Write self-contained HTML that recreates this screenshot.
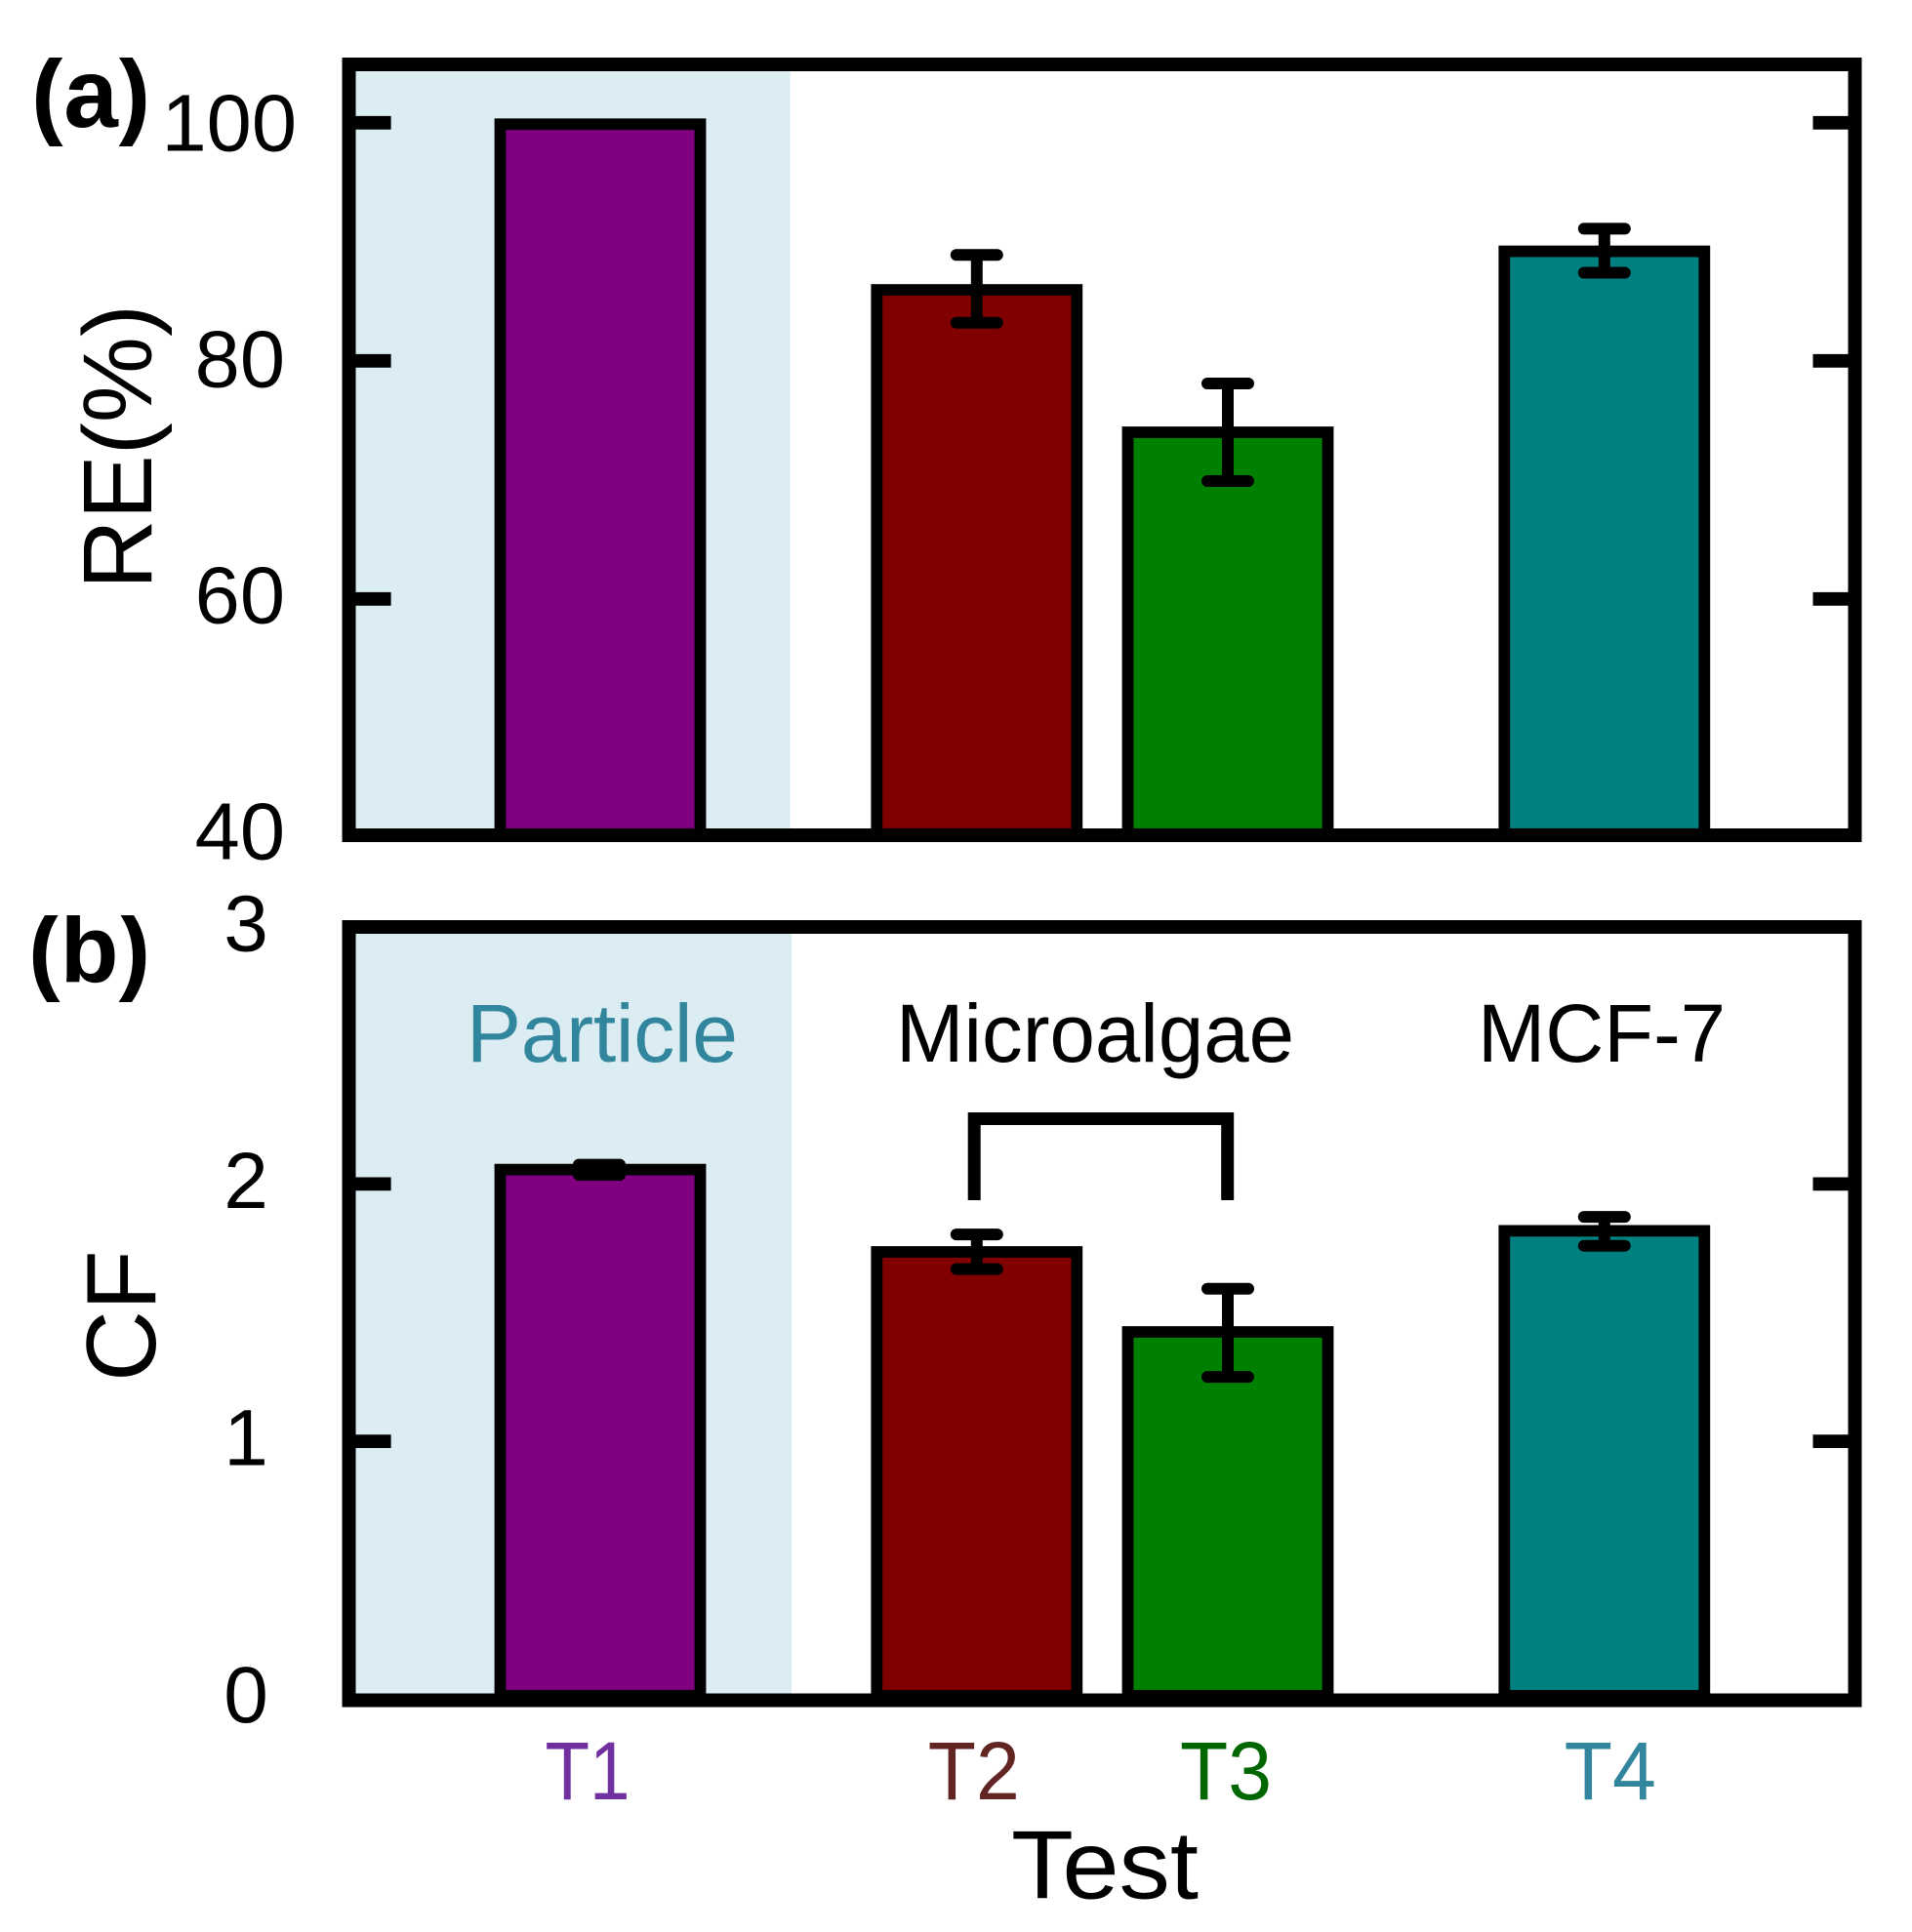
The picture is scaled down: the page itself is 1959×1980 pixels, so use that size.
<!DOCTYPE html>
<html lang="en">
<head>
<meta charset="utf-8">
<title>RE and CF by test</title>
<style>
html,body{margin:0;padding:0;background:#fff;}
svg{display:block;}
text{font-family:"Liberation Sans",Arial,sans-serif;}
</style>
</head>
<body>
<svg id="chart" xmlns="http://www.w3.org/2000/svg" width="1959" height="1980" viewBox="0 0 1959 1980">
  <defs>
    <clipPath id="clip-label-a"><rect x="0" y="59" width="200" height="91"/></clipPath>
    <clipPath id="clip-label-b"><rect x="0" y="938" width="200" height="91"/></clipPath>
  </defs>
  <rect x="0" y="0" width="1959" height="1980" fill="#ffffff"/>
  <rect x="360" y="66" width="449.5" height="790" fill="#dbedf3"/>
  <rect x="360" y="950" width="451" height="792" fill="#dbedf3"/>
  <g id="panel-a"></g>
  <g id="panel-b"></g>
  <rect x="357.5" y="66" width="1543" height="790" fill="none" stroke="#000" stroke-width="14"/>
  <rect x="357.5" y="950" width="1543" height="792.5" fill="none" stroke="#000" stroke-width="14"/>
  <path d="M998.2 1230 V1146.5 H1257.7 V1230" fill="none" stroke="#000" stroke-width="13"/>

  <g clip-path="url(#clip-label-a)"><text x="32" y="130" font-size="100" font-weight="700">(a)</text></g>
  <g clip-path="url(#clip-label-b)"><text x="29" y="1006.5" font-size="98" font-weight="700">(b)</text></g>
  <text transform="translate(155,604) rotate(-90)" font-size="100" textLength="292" lengthAdjust="spacingAndGlyphs">RE(%)</text>
  <text transform="translate(159,1416) rotate(-90)" font-size="101">CF</text>
  <text x="1036" y="1945.5" font-size="99" textLength="192" lengthAdjust="spacingAndGlyphs">Test</text>
  <text x="478" y="1088" font-size="84" fill="#31859c" textLength="278" lengthAdjust="spacing">Particle</text>
  <text x="918" y="1088" font-size="84" fill="#000" textLength="408" lengthAdjust="spacingAndGlyphs">Microalgae</text>
  <text x="1514" y="1088" font-size="84" fill="#000" textLength="254" lengthAdjust="spacingAndGlyphs">MCF-7</text>
</svg>
<script>
// ---- chart data ----
const categories = ["T1", "T2", "T3", "T4"];
const testPositions = [1, 4, 6, 9];
const categoryColors = ["#800080", "#800000", "#008000", "#008080"];
const categoryLabelColors = ["#7030a0", "#632523", "#006600", "#31859c"];

const reValues = [99.88, 85.96, 74.0, 89.2];
const reUpper = [null, 88.9, 78.1, 91.1];
const reLower = [null, 83.2, 69.9, 87.4];
const reTicks = [40, 60, 80, 100];

const cfValues = [2.056, 1.736, 1.425, 1.818];
const cfUpper = [2.075, 1.804, 1.593, 1.872];
const cfLower = [2.035, 1.669, 1.250, 1.76];
const cfTicks = [0, 1, 2, 3];

// ---- axis functions ----
const SVGNS = "http://www.w3.org/2000/svg";
function xScale(p) { return 615 + (p - 1) * 128.6; }
function yRE(v) { return 125.8 + (100 - v) * 12.2; }
function yCF(v) { return 1740.8 - v * 263.7; }
function yRELabel(v) { return 880.5 - (v - 40) * 12.1; }
function yCFLabel(v) { return 1765 - v * 263.5; }
const BAR_HALF_WIDTH = 102.5;

function make(tag, parent, attrs) {
  const el = document.createElementNS(SVGNS, tag);
  for (const k in attrs) el.setAttribute(k, attrs[k]);
  parent.appendChild(el);
  return el;
}

function drawPanel(group, prefix, values, upper, lower, ticks, yScale, baseValue) {
  // ticks on both sides, excluding the frame ends
  ticks.forEach(function (t) {
    if (t === ticks[0] || (prefix === "cf" && t === ticks[ticks.length - 1])) return;
    const left = make("line", group, { x1: 364, x2: 400.6, y1: yScale(t), y2: yScale(t), stroke: "#000", "stroke-width": 13.8 });
    
    
    const right = make("line", group, { x1: 1857.5, x2: 1894, y1: yScale(t), y2: yScale(t), stroke: "#000", "stroke-width": 13.8 });
    
    
  });
  // bars (the bottom edge tucks under the panel frame)
  values.forEach(function (v, i) {
    const cx = xScale(testPositions[i]);
    const top = yScale(v);
    const bar = make("rect", group, {
      x: cx - BAR_HALF_WIDTH, y: top, width: BAR_HALF_WIDTH * 2, height: yScale(baseValue) - top - 3,
      fill: categoryColors[i], stroke: "#000", "stroke-width": 11.8
    });
    
    
  });
  // error bars
  values.forEach(function (v, i) {
    if (upper[i] === null || lower[i] === null) return;
    const cx = xScale(testPositions[i]) + (i === 0 ? -1 : 0);
    const yU = yScale(upper[i]);
    const yL = yScale(lower[i]);
    const err = make("path", group, {
      d: "M" + (cx - 21) + " " + yU + " H" + (cx + 21) +
         " M" + cx + " " + yU + " V" + yL +
         " M" + (cx - 21) + " " + yL + " H" + (cx + 21),
      fill: "none", stroke: "#000", "stroke-width": 12, "stroke-linecap": "round"
    });
    
    
  });
}

const panelA = document.getElementById("panel-a");
const panelB = document.getElementById("panel-b");
drawPanel(panelA, "re", reValues, reUpper, reLower, reTicks, yRE, 40);
drawPanel(panelB, "cf", cfValues, cfUpper, cfLower, cfTicks, yCF, 0);

// y tick labels
const chart = document.getElementById("chart");
reTicks.forEach(function (t) {
  const right = t >= 100 ? 304 : 292;
  const label = make("text", chart, {
    x: right, y: yRELabel(t),
    "text-anchor": "end", "font-size": 83, fill: "#000"
  });
  label.textContent = String(t);
  
  
});
cfTicks.forEach(function (t) {
  const label = make("text", chart, {
    x: 252, y: yCFLabel(t),
    "text-anchor": "middle", "font-size": 82, fill: "#000"
  });
  label.textContent = String(t);
  
  
});

// category labels
(function () {
  const shift = { T1: -13, T2: -3, T3: -2, T4: 6 };
  categories.forEach(function (c, i) {
    const label = make("text", chart, {
      x: xScale(testPositions[i]) + shift[c], y: 1844,
      "text-anchor": "middle", "font-size": 84, fill: categoryLabelColors[i],
      textLength: c === "T1" ? 87 : 94, lengthAdjust: "spacingAndGlyphs"
    });
    label.textContent = c;
    
    
  });
})();
</script>
</body>
</html>
